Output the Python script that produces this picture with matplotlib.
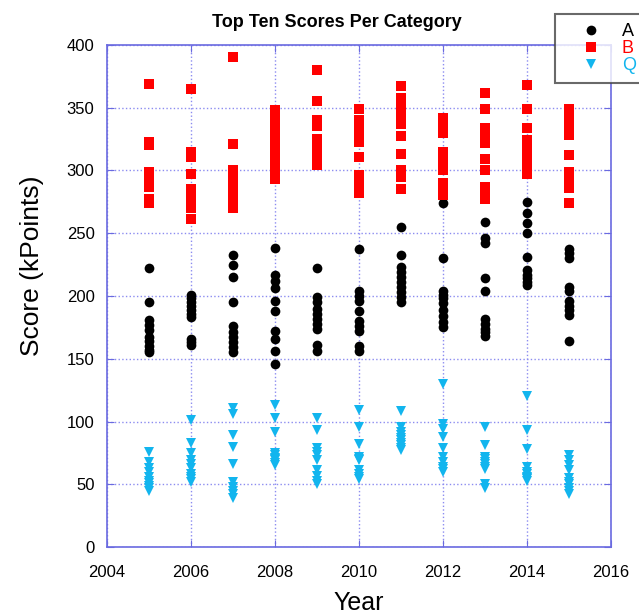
from matplotlib import pyplot as plt

# Dados
years = [2005, 2006, 2007, 2008, 2009, 2010, 2011, 2012, 2013, 2014, 2015]

score_a = [
    [222, 195, 181, 177, 173, 167, 164, 160, 157, 155],
    [201, 198, 195, 192, 189, 186, 183, 166, 163, 161],
    [233, 225, 215, 195, 176, 171, 167, 163, 159, 155],
    [238, 217, 212, 206, 196, 188, 172, 166, 156, 146],
    [222, 199, 195, 190, 186, 182, 178, 174, 161, 156],
    [237, 204, 200, 196, 188, 180, 176, 172, 160, 156],
    [255, 233, 223, 219, 215, 211, 207, 203, 199, 195],
    [274, 230, 204, 201, 198, 194, 189, 184, 179, 175],
    [259, 246, 242, 214, 204, 182, 178, 174, 171, 168],
    [275, 266, 258, 250, 231, 221, 217, 214, 211, 209],
    [237, 234, 230, 207, 204, 196, 192, 189, 185, 164],
]

score_b = [
    [369, 323, 320, 299, 296, 293, 290, 287, 277, 274],
    [365, 315, 311, 297, 285, 281, 277, 273, 270, 261],
    [390, 321, 300, 294, 290, 286, 282, 278, 274, 270],
    [348, 342, 334, 326, 320, 314, 308, 302, 298, 293],
    [380, 355, 340, 335, 325, 320, 316, 312, 308, 304],
    [349, 340, 336, 330, 323, 311, 296, 291, 286, 282],
    [367, 358, 350, 343, 337, 327, 313, 300, 295, 285],
    [342, 338, 330, 315, 310, 304, 300, 290, 285, 280],
    [362, 349, 334, 328, 322, 309, 300, 287, 282, 277],
    [368, 349, 334, 324, 316, 311, 307, 303, 300, 297],
    [349, 344, 340, 336, 328, 312, 299, 292, 286, 274],
]

score_q = [
    [76, 68, 63, 60, 56, 53, 51, 49, 47, 45],
    [101, 83, 75, 69, 66, 63, 58, 56, 54, 52],
    [111, 106, 89, 80, 66, 52, 48, 45, 42, 39],
    [113, 103, 92, 75, 73, 71, 70, 69, 67, 65],
    [103, 93, 79, 76, 73, 69, 61, 57, 53, 50],
    [109, 96, 82, 72, 70, 69, 61, 58, 56, 54],
    [108, 96, 92, 89, 87, 85, 83, 81, 79, 77],
    [130, 98, 94, 88, 79, 72, 68, 64, 62, 60],
    [96, 81, 72, 70, 68, 66, 64, 62, 50, 47],
    [120, 93, 78, 64, 60, 58, 56, 55, 54, 53],
    [73, 69, 65, 61, 55, 52, 50, 47, 45, 42],
]

series = [
    ('A', score_a, 'o', 'black', 7),
    ('B', score_b, 's', '#ff0000', 6.5),
    ('Q', score_q, 'v', '#12b5ee', 7),
]

plt.rcParams['font.family'] = ['Liberation Sans', 'DejaVu Sans']

fig = plt.figure(figsize=(6.39, 6.14), dpi=100)
ax = fig.add_axes([0.1675, 0.109, 0.7885, 0.818])

# Pontos
handles = []
for name, values, marker, color, size in series:
    xs = []
    ys = []
    for year, vals in zip(years, values):
        xs += [year] * len(vals)
        ys += vals
    h, = ax.plot(xs, ys, linestyle='none', marker=marker, color=color,
                 markersize=size, markeredgewidth=0, label=name, zorder=3)
    handles.append(h)

# Eixos
ax.set_xlim(2004, 2016)
ax.set_ylim(0, 400)
ax.set_xticks(range(2004, 2017, 2))
ax.set_yticks(range(0, 401, 50))
ax.grid(True, color='#8c8cf0', linestyle=':', linewidth=1.0, zorder=0)
for spine in ax.spines.values():
    spine.set_color('#6a6ae0')
    spine.set_linewidth(1.2)
ax.tick_params(direction='in', length=5, color='#6a6ae0', labelsize=12,
               top=True, right=True)
ax.tick_params(axis='x', pad=13)
ax.tick_params(axis='y', pad=9)

ax.set_title('Top Ten Scores Per Category', fontsize=13, fontweight='bold',
             x=0.456, pad=13)
ax.set_ylabel('Score (kPoints)', fontsize=19)
ax.yaxis.set_label_coords(-0.125, 0.56)
ax.set_xlabel('Year', fontsize=18, labelpad=8)

# Legenda
leg = fig.legend(handles=handles, loc='upper left', bbox_to_anchor=(0.8685, 0.977),
                 frameon=True, fancybox=False, fontsize=13, handlelength=3.0,
                 handletextpad=0.2, borderpad=0.5, labelspacing=0.0, borderaxespad=0)
leg.get_frame().set_edgecolor('#444444')
leg.get_frame().set_linewidth(1.5)
for text, (_, _, _, color, _) in zip(leg.get_texts(), series):
    text.set_color(color)

fig.savefig('out.png', dpi=100)
